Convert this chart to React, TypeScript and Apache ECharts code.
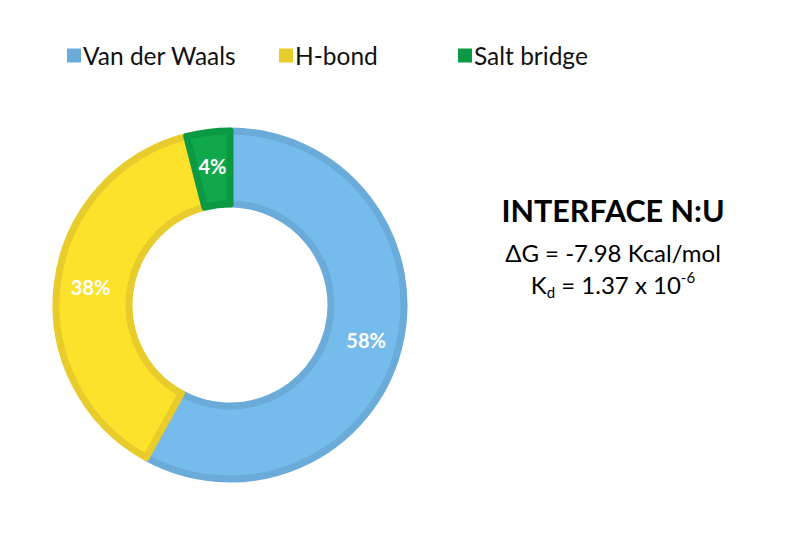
import React, { useEffect, useRef } from "react";
import * as echarts from "echarts";

const categories = ["Van der Waals", "H-bond", "Salt bridge"];
const values = [58, 38, 4];
const fillColors = ["#75bbec", "#fde22b", "#0fa84b"];
const borderColors = ["#6aabd9", "#e7cc2b", "#0b9a43"];
const legendLefts = [62, 274, 453];
const titleText = "INTERFACE N:U";
const dgText = "ΔG = -7.98 Kcal/mol";

const FONT = "Lato";

export default function App() {
  const ref = useRef<HTMLDivElement>(null);
  useEffect(() => {
    if (!ref.current) return;
    const chart = echarts.init(ref.current, undefined, { renderer: "svg" });
    const data = categories.map((name, i) => ({
      name,
      value: values[i],
      itemStyle: { color: fillColors[i], borderColor: borderColors[i], borderWidth: 7 },
    }));
    chart.setOption({
      animation: false,
      backgroundColor: "#ffffff",
      legend: categories.map((name, i) => ({
        data: [name],
        left: legendLefts[i],
        top: 38,
        icon: "rect",
        itemWidth: 14,
        itemHeight: 14,
        itemGap: 6,
        selectedMode: false,
        itemStyle: { borderWidth: 0, color: borderColors[i] },
        textStyle: { fontFamily: FONT, fontSize: 24.5, color: "#111111", padding: [0, 0, 0, -3] },
      })),
      series: [
        {
          type: "pie",
          center: [230, 305],
          radius: [101, 174],
          startAngle: 90,
          clockwise: true,
          data,
          label: {
            show: true,
            position: "inside",
            formatter: (p: any) => p.value + "%",
            color: "#ffffff",
            fontFamily: FONT,
            fontWeight: "bold",
            fontSize: 20,
          },
          labelLine: { show: false },
          emphasis: { disabled: true },
        },
      ],
      graphic: [
        {
          type: "text",
          x: 613,
          y: 210,
          style: {
            text: titleText,
            fontFamily: FONT,
            fontWeight: "bold",
            fontSize: 30.5,
            fill: "#000000",
            textAlign: "center",
            textVerticalAlign: "middle",
          },
        },
        {
          type: "text",
          x: 613,
          y: 252,
          style: {
            text: dgText,
            fontFamily: FONT,
            fontSize: 24,
            fill: "#000000",
            textAlign: "center",
            textVerticalAlign: "middle",
          },
        },
        {
          type: "text",
          x: 613,
          y: 284,
          style: {
            text: "{a|K}{sub|d}{a| = 1.37 x 10}{sup|-6}",
            fontFamily: FONT,
            textAlign: "center",
            textVerticalAlign: "middle",
            rich: {
              a: { fontFamily: FONT, fontSize: 24, lineHeight: 30, color: "#000000" },
              sub: { fontFamily: FONT, fontSize: 15, lineHeight: 15, verticalAlign: "bottom", color: "#000000" },
              sup: { fontFamily: FONT, fontSize: 15, lineHeight: 15, verticalAlign: "top", color: "#000000" },
            },
          },
        },
      ],
    });
    return () => chart.dispose();
  }, []);
  return (
    <div
      ref={ref}
      style={{ position: "absolute", left: 0, top: 0, width: 800, height: 534 }}
    />
  );
}
